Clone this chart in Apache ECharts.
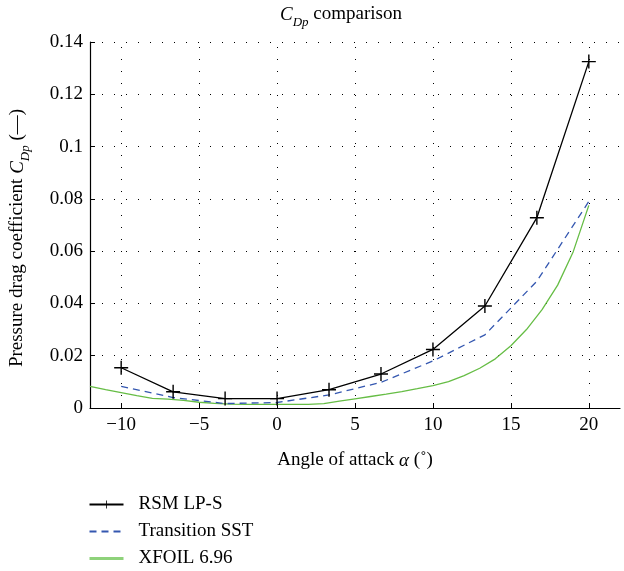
<!DOCTYPE html>
<html>
<head>
<meta charset="utf-8">
<script src="https://cdn.jsdelivr.net/npm/echarts@6/dist/echarts.min.js"></script>
<style>
  html, body { margin: 0; padding: 0; background: #fff; }
  #chart { width: 624px; height: 571px; }
</style>
</head>
<body>
<div id="chart"></div>
<script>
// angles of attack (deg)
const rsmAlpha = [-10, -6.667, -3.333, 0, 3.333, 6.667, 10, 13.333, 16.667, 20];
const rsmCdp = [0.0154, 0.0062, 0.0036, 0.0036, 0.0070, 0.0130, 0.0224, 0.0390, 0.0728, 0.1325];
const sstCdp = [0.0083, 0.0040, 0.0017, 0.0021, 0.0050, 0.0098, 0.0180, 0.0280, 0.0485, 0.0790];

const xfoilAlpha = [-12, -11, -10, -9, -8, -7, -6, -5, -4, -3, -2, -1, 0, 1, 2, 3, 4, 5, 6, 7, 8, 9,
  10, 11, 12, 13, 14, 15, 16, 17, 18, 19, 20];
const xfoilCdp = [0.0083, 0.0070, 0.0059, 0.0047, 0.0037, 0.0034, 0.0029, 0.0022, 0.0018, 0.0015,
  0.0014, 0.0014, 0.0014, 0.0014, 0.0014, 0.0017, 0.0026, 0.0035, 0.0044, 0.0053, 0.0063, 0.0074,
  0.0086, 0.0101, 0.0124, 0.0152, 0.0188, 0.0238, 0.0300, 0.0376, 0.0470, 0.0598, 0.0775];

const xTicks = [-10, -5, 0, 5, 10, 15, 20];

const font = "'Liberation Serif', 'DejaVu Serif', serif";
const fs = 19;
const dots = [1, 11];
const plus = 'path://M4.5,0H5.5V4.5H10V5.5H5.5V10H4.5V5.5H0V4.5H4.5Z';
const clear = 'rgba(0,0,0,0)';

const zip = (xs, ys) => xs.map((x, i) => [x, ys[i]]);

// italic C with italic subscript Dp
const cdpRich = {
  i: { fontFamily: font, fontSize: fs, fontStyle: 'italic', fontWeight: 'normal', color: '#000', lineHeight: 24, verticalAlign: 'top' },
  sub: { fontFamily: font, fontSize: 13, fontStyle: 'italic', fontWeight: 'normal', color: '#000', lineHeight: 24, verticalAlign: 'bottom', padding: [9, 0, 0, 0] },
  n: { fontFamily: font, fontSize: fs, fontWeight: 'normal', color: '#000', lineHeight: 24, verticalAlign: 'top' }
};

const chart = echarts.init(document.getElementById('chart'));
chart.setOption({
  animation: false,
  backgroundColor: '#fff',
  textStyle: { fontFamily: font, color: '#000' },
  title: {
    text: '{i|C}{sub|Dp}{n| comparison}',
    left: 275,
    top: 0,
    textStyle: { fontWeight: 'normal', rich: cdpRich }
  },
  grid: { left: 88, right: 4, top: 42, bottom: 163, containLabel: false },
  xAxis: {
    type: 'value',
    min: -12,
    max: 22,
    name: '{n|Angle of attack }{i|α}{n| (˚)}',
    nameLocation: 'middle',
    nameGap: 43,
    nameTextStyle: { fontFamily: font, fontSize: fs, color: '#000', rich: cdpRich },
    axisLine: { lineStyle: { color: '#000', width: 1.2 } },
    axisTick: { inside: true, length: 5, customValues: xTicks, lineStyle: { color: '#000' } },
    axisLabel: {
      customValues: xTicks,
      fontFamily: font, fontSize: fs, color: '#000', margin: 8,
      formatter: v => String(v).replace('-', '\u2212')
    },
    splitLine: { show: false }
  },
  yAxis: {
    type: 'value',
    min: 0,
    max: 0.14,
    interval: 0.02,
    name: '{n|Pressure drag coefficient }{i|C}{sub|Dp}{n| (—)}',
    nameLocation: 'middle',
    nameGap: 58,
    nameTextStyle: { fontFamily: font, fontSize: fs, color: '#000', padding: [0, 26, 0, 0], rich: cdpRich },
    axisLine: { show: true, onZero: false, lineStyle: { color: '#000', width: 1.2 } },
    axisTick: { show: true, inside: true, length: 5, lineStyle: { color: '#000' } },
    axisLabel: {
      fontFamily: font, fontSize: fs, color: '#000', margin: 7,
      formatter: v => String(+v.toFixed(2))
    },
    splitLine: { show: true, lineStyle: { color: '#000', type: dots, width: 1 } }
  },
  legend: {
    orient: 'vertical',
    left: 88,
    top: 495,
    height: 76,
    padding: 0,
    itemWidth: 34,
    itemHeight: 10,
    itemGap: 8,
    textStyle: { fontFamily: font, fontSize: fs, color: '#000', padding: [0, 0, 0, 10] },
    data: [
      { name: 'RSM LP-S' },
      { name: 'Transition SST' },
      { name: 'XFOIL 6.96', lineStyle: { width: 3, color: '#8ed27a' } }
    ]
  },
  series: [
    {
      name: 'XFOIL 6.96',
      type: 'line',
      data: zip(xfoilAlpha, xfoilCdp),
      showSymbol: false,
      symbol: 'circle',
      lineStyle: { color: '#66bd45', width: 1.3 },
      itemStyle: { color: clear },
      z: 2,
      markLine: {
        silent: true,
        symbol: 'none',
        label: { show: false },
        lineStyle: { color: '#000', type: dots, width: 1 },
        data: xTicks.map(v => ({ xAxis: v }))
      }
    },
    {
      name: 'Transition SST',
      type: 'line',
      data: zip(rsmAlpha, sstCdp),
      showSymbol: false,
      symbol: 'circle',
      lineStyle: { color: '#3457b0', width: 1.3, type: [7, 5] },
      itemStyle: { color: clear },
      z: 3
    },
    {
      name: 'RSM LP-S',
      type: 'line',
      data: zip(rsmAlpha, rsmCdp),
      symbol: plus,
      symbolSize: 14,
      lineStyle: { color: '#000', width: 1.3 },
      itemStyle: { color: '#000' },
      z: 4
    }
  ]
});
</script>
</body>
</html>
